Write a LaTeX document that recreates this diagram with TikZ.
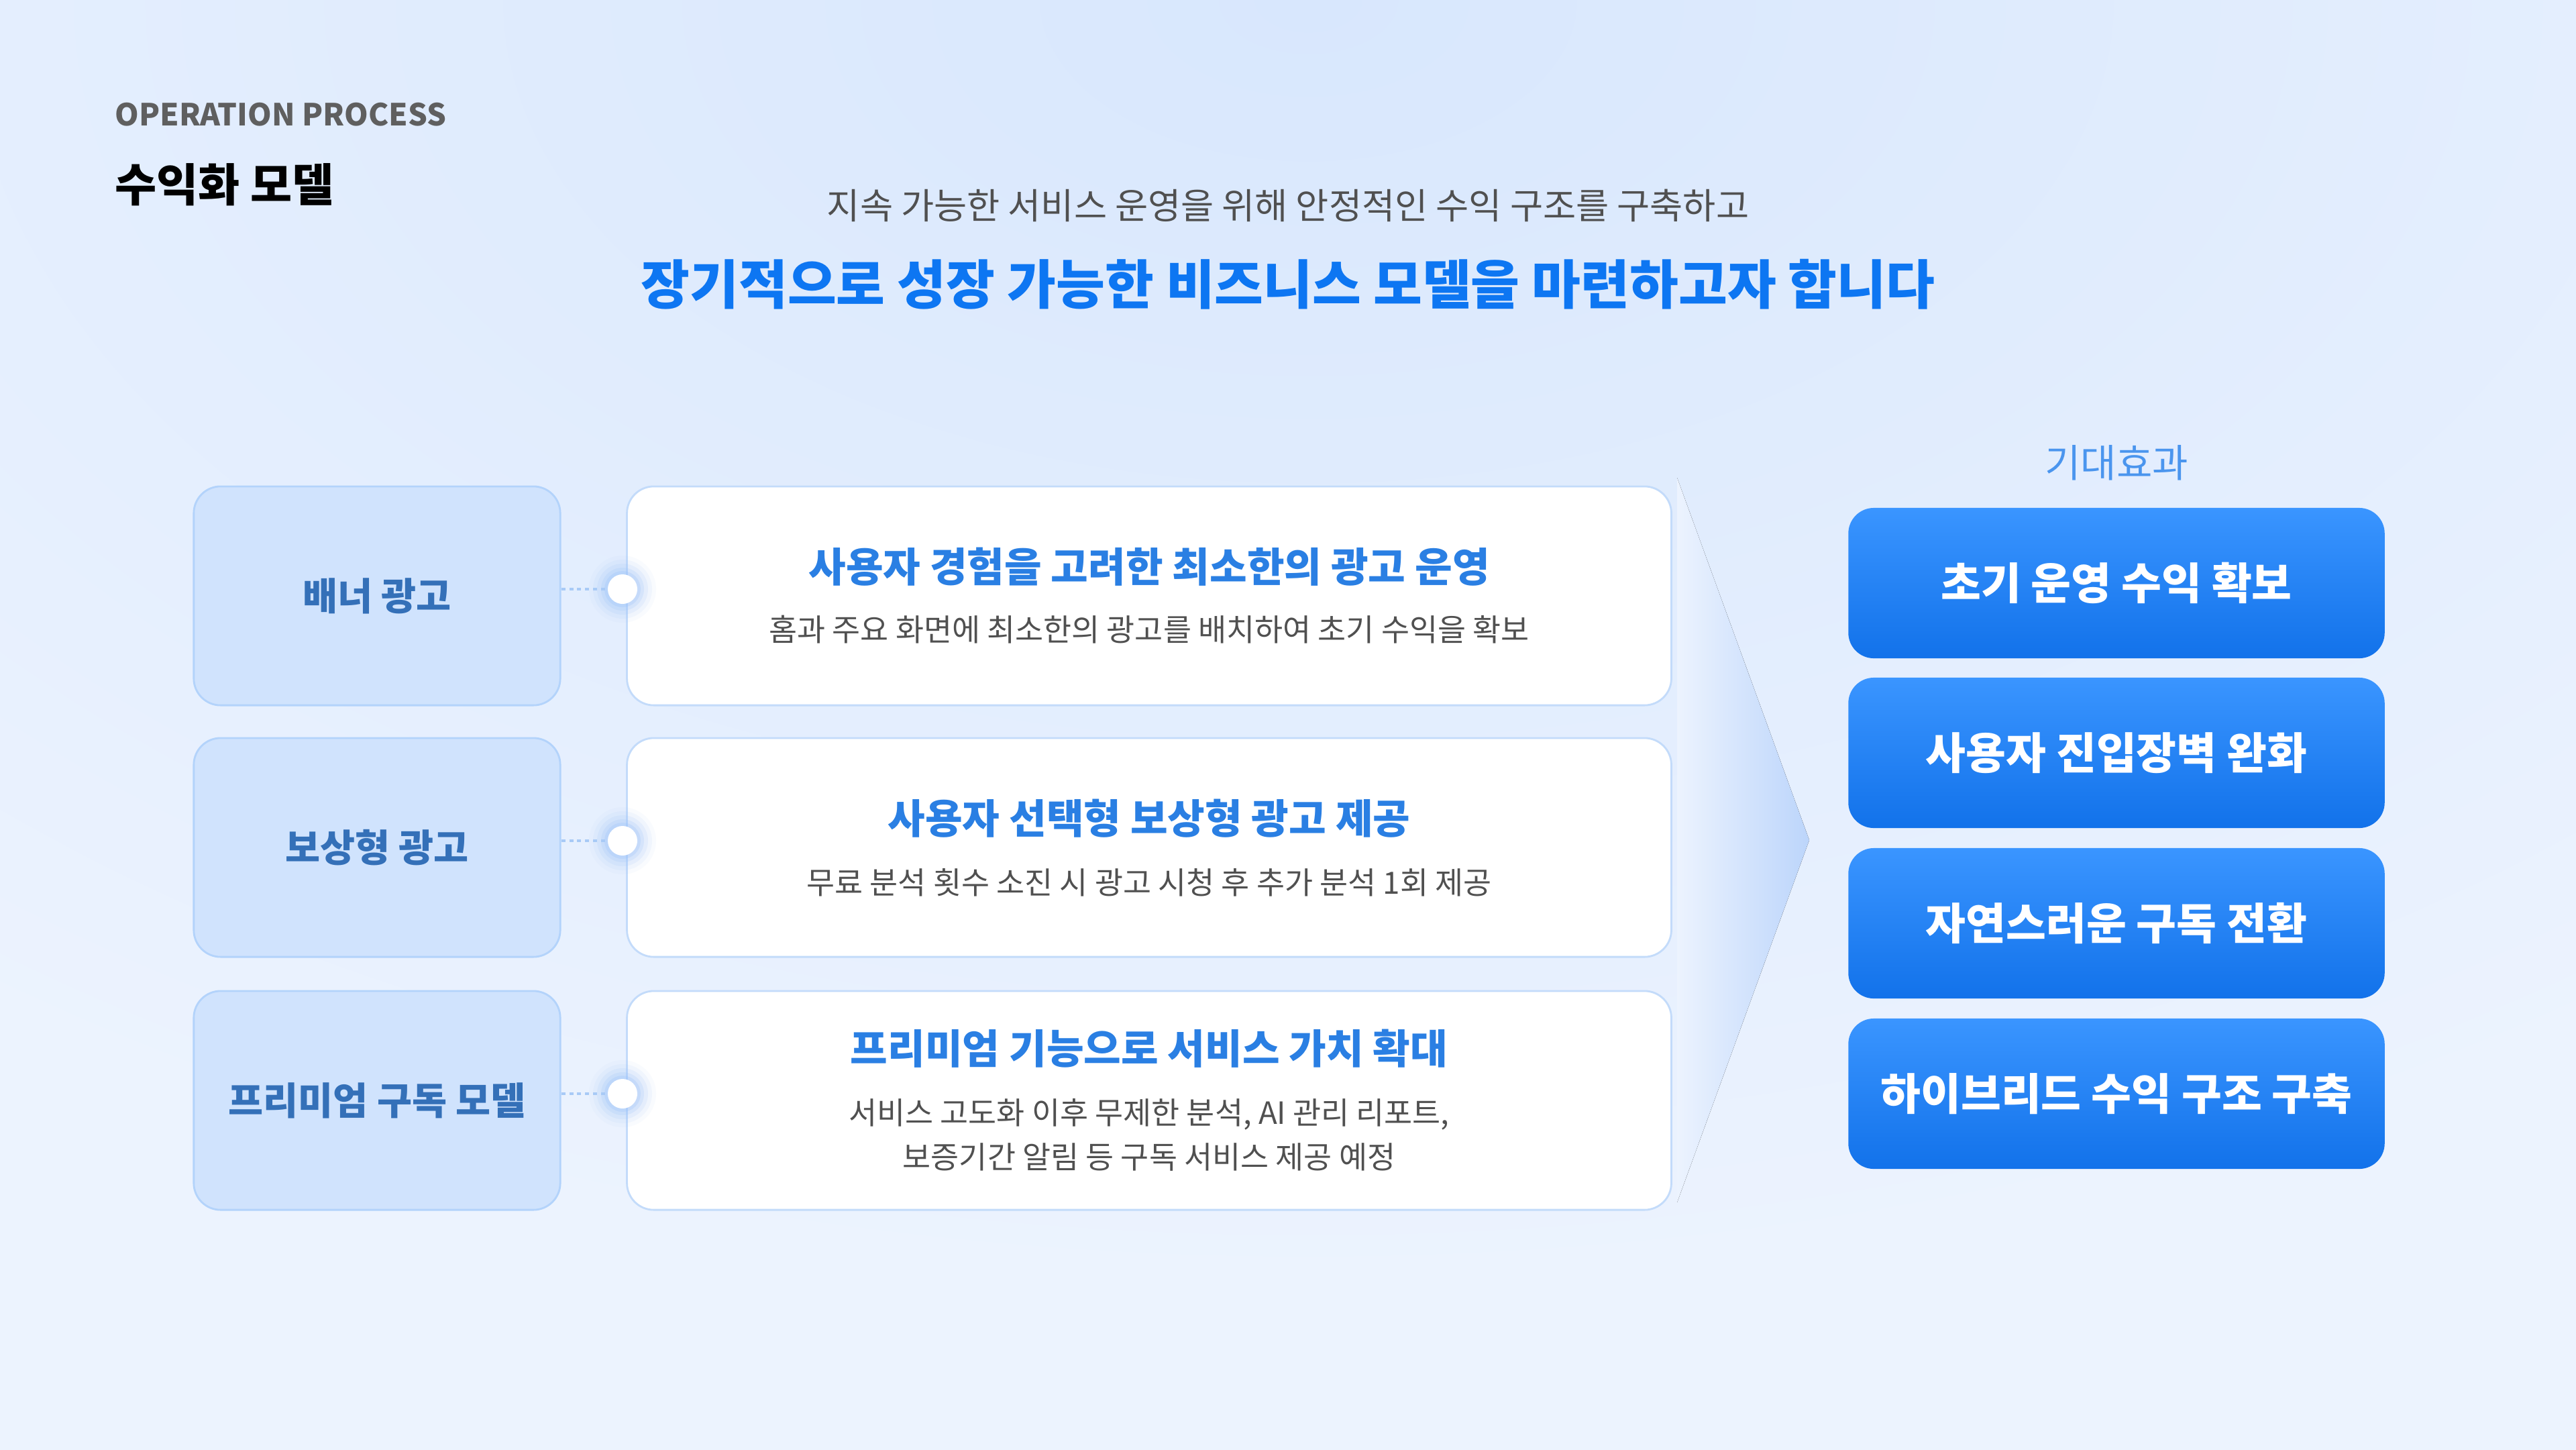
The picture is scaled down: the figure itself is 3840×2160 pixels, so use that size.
\documentclass[tikz,border=0pt]{standalone}
\usepackage{fontspec}
\setmainfont{Noto Sans CJK KR}
\usetikzlibrary{positioning}

\definecolor{bgbase}{HTML}{ECF3FE}
\definecolor{bgtop}{HTML}{D8E7FD}
\definecolor{leftfill}{HTML}{D0E3FD}
\definecolor{leftline}{HTML}{B3D3FB}
\definecolor{lefttext}{HTML}{3470B8}
\definecolor{midline}{HTML}{C3DBFA}
\definecolor{midtitle}{HTML}{2A7FE3}
\definecolor{desctext}{HTML}{505050}
\definecolor{headblue}{HTML}{0D76F2}
\definecolor{taggray}{HTML}{5F5F5F}
\definecolor{btntop}{HTML}{3A95FF}
\definecolor{btnbot}{HTML}{1272EA}
\definecolor{effblue}{HTML}{4A95EE}
\definecolor{chevblue}{HTML}{BCD5FB}
\definecolor{dotline}{HTML}{A8CAF6}
\definecolor{glowblue}{HTML}{9CC3FA}

\pgfdeclareradialshading{pageglow}{\pgfpoint{0bp}{0bp}}{color(0bp)=(bgtop); color(20bp)=(bgbase); color(50bp)=(bgbase)}

\tikzset{
	leftbox/.style={draw=leftline, line width=0.8pt, fill=leftfill, rounded corners=0.4cm,
		minimum width=5.46cm, minimum height=3.26cm, text=lefttext,
		font=\fontsize{16.1}{19}\selectfont\bfseries},
	midbox/.style={draw=midline, line width=0.8pt, fill=white, rounded corners=0.4cm,
		minimum width=15.56cm, minimum height=3.26cm},
	midhead/.style={text=midtitle, font=\fontsize{17.2}{20}\selectfont\bfseries, inner sep=0pt},
	middesc/.style={text=desctext, font=\fontsize{13}{18.8}\selectfont, align=center, inner sep=0pt},
	effbox/.style={top color=btntop, bottom color=btnbot, draw=none, rounded corners=0.38cm,
		minimum width=7.99cm, minimum height=2.24cm, text=white,
		font=\fontsize{18.5}{22}\selectfont\bfseries},
	joint/.style={circle, fill=white, minimum size=0.44cm, inner sep=0pt},
	linkline/.style={dotline, line width=0.9pt, dash pattern=on 1.7pt off 1.7pt}
}

\begin{document}
\begin{tikzpicture}[x=0.01cm, y=-0.01cm]
	\useasboundingbox (0,0) rectangle (3840,2160);

	% background
	\shade[shading=pageglow] (-2050,-2400) rectangle (5950,2400);

	% header
	\node[anchor=west, inner sep=0pt, text=taggray, font=\fontsize{12.9}{16}\selectfont\bfseries] (tag) at (171,171) {OPERATION PROCESS};
	\node[anchor=west, inner sep=0pt, font=\fontsize{19.2}{23}\selectfont\bfseries] (pagename) at (171,275) {수익화 모델};
	\node[text=desctext, font=\fontsize{15.2}{18}\selectfont] (lead) at (1920,306) {지속 가능한 서비스 운영을 위해 안정적인 수익 구조를 구축하고};
	\node[text=headblue, font=\fontsize{22.5}{27}\selectfont\bfseries] (headline) at (1920,424) {장기적으로 성장 가능한 비즈니스 모델을 마련하고자 합니다};

	% arrow shape behind the cards
	\fill[left color=bgbase, right color=chevblue] (2500,712) -- (2697,1252) -- (2500,1792) -- cycle;

	% rows
	\foreach \i/\y/\ty/\dy/\lab/\ttl/\dsc in {
		1/888/845/938/{배너 광고}/{사용자 경험을 고려한 최소한의 광고 운영}/{홈과 주요 화면에 최소한의 광고를 배치하여 초기 수익을 확보},
		2/1263/1220/1315/{보상형 광고}/{사용자 선택형 보상형 광고 제공}/{무료 분석 횟수 소진 시 광고 시청 후 추가 분석 1회 제공},
		3/1640/1563/1691/{프리미엄 구독 모델}/{프리미엄 기능으로 서비스 가치 확대}/{서비스 고도화 이후 무제한 분석, AI 관리 리포트,\\보증기간 알림 등 구독 서비스 제공 예정}} {
		\node[leftbox] (lb\i) at (562,\y) {\lab};
		\node[midbox] (mb\i) at (1713,\y) {};
		\node[midhead] (mt\i) at (1713,\ty) {\ttl};
		\node[middesc] (md\i) at (1713,\dy) {\dsc};
		\foreach \r/\o in {50/0.05, 44/0.09, 38/0.14, 32/0.20, 27/0.28}
			\fill[glowblue, opacity=\o] (928,\y-10) circle (\r);
		\node[joint] (dot\i) at (928,\y-10) {};
		\draw[linkline] (lb\i.east |- dot\i) -- (dot\i.west);
	}

	% expected effects
	\node[text=effblue, font=\fontsize{16.5}{20}\selectfont] (effhead) at (3155,690) {기대효과};
	\foreach \j/\y/\txt in {1/869/초기 운영 수익 확보, 2/1122/사용자 진입장벽 완화, 3/1376/자연스러운 구독 전환, 4/1630/하이브리드 수익 구조 구축}
		\node[effbox] (eff\j) at (3155,\y) {\txt};
\end{tikzpicture}
\end{document}
